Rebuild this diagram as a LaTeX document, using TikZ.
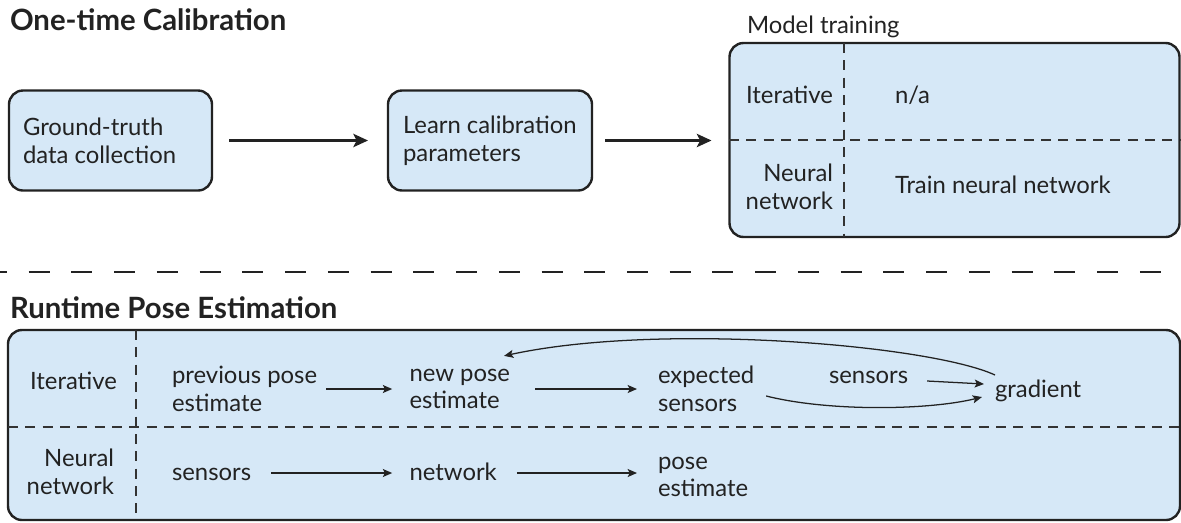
\documentclass[tikz,border=0pt]{standalone}
\usepackage{fontspec}
\setmainfont{Lato}
\usetikzlibrary{arrows.meta}
\definecolor{boxfill}{HTML}{D6E8F7}
\definecolor{ink}{HTML}{222222}
\definecolor{dashc}{HTML}{333333}
\begin{document}
\begin{tikzpicture}[x=0.75pt,y=-0.75pt,
  every node/.style={inner sep=0pt, outer sep=0pt, text=ink},
  body/.style={font=\fontsize{17.9}{20.8}\selectfont},
  heading/.style={font=\fontsize{22}{25}\selectfont\bfseries},
  panel/.style={draw=ink, line width=1.8pt, fill=boxfill, rounded corners=10.5pt},
  bigarrow/.style={draw=ink, line width=1.7pt, -{Stealth[length=11pt,width=10pt,inset=2.5pt]}},
  smallarrow/.style={draw=ink, line width=0.95pt, -{Stealth[length=7pt,width=6pt,inset=1.5pt]}},
  innerdash/.style={draw=dashc, line width=1pt, dash pattern=on 7.5pt off 5.5pt},
  sepdash/.style={draw=ink, line width=1.7pt, dash pattern=on 15.75pt off 16.3pt}
]
\useasboundingbox (0,0) rectangle (1181,522);

% ---- One-time calibration ----
\node[heading, anchor=base west] (t1) at (10,30) {One-time Calibration};

\node[panel, minimum width=152.25pt, minimum height=75pt] (b1) at (110.5,140.5) {};
\node[body, anchor=west, align=left] (b1t) at (23,141) {Ground-truth\\data collection};

\node[panel, minimum width=153pt, minimum height=75pt] (b2) at (490,140.5) {};
\node[body, anchor=west, align=left] (b2t) at (403,141) {Learn calibration\\parameters};

\node[body, anchor=base west] (mt) at (747,33) {Model training};
\node[panel, minimum width=337.5pt, minimum height=145.5pt] (b3) at (954.5,140) {};
\coordinate (b3vt) at (844,43);
\coordinate (b3vb) at (844,237);
\coordinate (b3hl) at (729,140);
\coordinate (b3hr) at (1180,140);
\draw[innerdash] (b3vt) -- (b3vb);
\draw[innerdash] (b3hl) -- (b3hr);
\node[body, anchor=base east] (mi) at (833,103) {Iterative};
\node[body, anchor=base west] (mna) at (895,103) {n/a};
\node[body, anchor=east, align=right] (mn) at (833,187) {Neural\\network};
\node[body, anchor=base west] (mtr) at (895,193) {Train neural network};

\draw[bigarrow, shorten <=12.75pt, shorten >=15pt] (b1) -- (b2);
\draw[bigarrow, shorten <=9.75pt, shorten >=13.5pt] (b2) -- (b3.west |- b2);

% ---- separator ----
\coordinate (sl) at (-14,272);
\coordinate (sr) at (1195,272);
\draw[sepdash] (sl) -- (sr);

% ---- Runtime pose estimation ----
\node[heading, anchor=base west] (t2) at (10,318) {Runtime Pose Estimation};
\node[panel, minimum width=879pt, minimum height=142.5pt] (rb) at (594,425) {};
\coordinate (rvt) at (136,330);
\coordinate (rvb) at (136,520);
\coordinate (rhl) at (8,427);
\coordinate (rhr) at (1180,427);
\draw[innerdash] (rvt) -- (rvb);
\draw[innerdash] (rhl) -- (rhr);

\node[body, anchor=base east] (ri) at (117,389) {Iterative};
\node[body, anchor=east, align=right] (rn) at (114,472) {Neural\\network};

\node[body, anchor=west, align=left] (prev) at (172,389) {previous pose\\estimate};
\node[body, anchor=west, align=left] (new) at (409.5,389) {new pose\\estimate};
\node[body, anchor=west, align=left] (exp) at (658,389) {expected\\sensors};
\node[body, anchor=base west] (sens) at (829,383) {sensors};
\node[body, anchor=base west] (grad) at (995,397) {gradient};

\draw[smallarrow, shorten <=6.75pt, shorten >=13pt] (prev) -- (new);
\draw[smallarrow, shorten <=18.75pt, shorten >=15.75pt] (new) -- (exp);
\draw[smallarrow] ([shift={(19,-2)}]sens.base east) -- ([shift={(-11,-13)}]grad.base west);
\draw[smallarrow] ([shift={(12,7)}]exp.east) .. controls (830,412) and (930,410) .. ([shift={(-13,0)}]grad.base west);
\draw[smallarrow] ([shift={(0,-22)}]grad.base west) .. controls (930,345) and (660,322) .. ([shift={(-6,-13)}]new.north east);

\node[body, anchor=base west] (bs) at (172,480) {sensors};
\node[body, anchor=base west] (bn) at (409.5,480) {network};
\node[body, anchor=west, align=left] (bp) at (658,477) {pose\\estimate};
\draw[smallarrow, shorten <=15pt, shorten >=13pt] (bs.east |- 0,473) -- (bn.west |- 0,473);
\draw[smallarrow, shorten <=15pt, shorten >=15.75pt] (bn.east |- 0,473) -- (bp.west |- 0,473);
\end{tikzpicture}
\end{document}
